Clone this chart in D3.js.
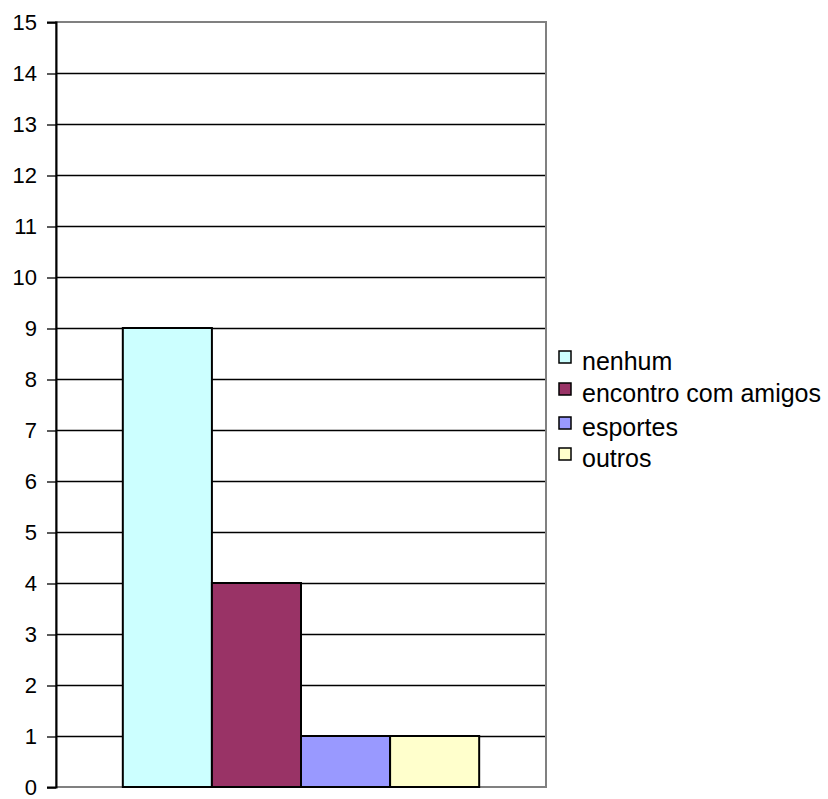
<!DOCTYPE html>
<html>
<head>
<meta charset="utf-8">
<script src="https://cdn.jsdelivr.net/npm/d3@7"></script>
<style>
  html, body { margin: 0; padding: 0; background: #fff; }
  svg text { font-family: "Liberation Sans", Arial, sans-serif; fill: #000; }
</style>
</head>
<body>
<svg id="chart" width="828" height="799"></svg>
<script>
// Activity categories and their counts
const categories = ["nenhum", "encontro com amigos", "esportes", "outros"];
const values = [9, 4, 1, 1];
const colors = ["#ccffff", "#993366", "#9999ff", "#ffffcc"];
const yTicks = d3.range(0, 16);

const svg = d3.select("#chart");
const plot = { left: 56, top: 22, right: 546, bottom: 787 };

const y = d3.scaleLinear().domain([0, 15]).range([plot.bottom, plot.top]);

// The four series share one category group; gap width is 150% of a bar
const barW = (plot.right - plot.left) / (categories.length + 1.5);
const x = d3.scaleBand()
  .domain(categories)
  .range([plot.left + barW * 0.75, plot.right - barW * 0.75])
  .padding(0);

// Horizontal gridlines
svg.append("g")
  .selectAll("line")
  .data(yTicks.filter(t => t > 0 && t < 15))
  .join("line")
  .attr("x1", plot.left).attr("x2", plot.right)
  .attr("y1", d => y(d) + 0.5).attr("y2", d => y(d) + 0.5)
  .attr("stroke", "#000").attr("stroke-width", 1.3);

// Plot border (gray)
svg.append("rect")
  .attr("x", plot.left).attr("y", plot.top)
  .attr("width", plot.right - plot.left).attr("height", plot.bottom - plot.top)
  .attr("fill", "none").attr("stroke", "#808080").attr("stroke-width", 2);

// Bars
svg.append("g")
  .selectAll("rect")
  .data(categories.map((c, i) => ({ c, v: values[i], col: colors[i] })))
  .join("rect")
  .attr("x", d => x(d.c))
  .attr("y", d => y(d.v))
  .attr("width", x.bandwidth())
  .attr("height", d => y(0) - y(d.v))
  .attr("fill", d => d.col)
  .attr("stroke", "#000").attr("stroke-width", 2);

// Y axis
const yAxis = svg.append("g")
  .attr("transform", `translate(${plot.left},0)`)
  .call(d3.axisLeft(y).tickValues(yTicks).tickSize(9).tickPadding(10).tickFormat(d3.format("d")));
yAxis.select(".domain").attr("stroke", "#000").attr("stroke-width", 2);
yAxis.selectAll(".tick line").attr("stroke", "#000").attr("stroke-width", 1.3)
  .attr("transform", "translate(0,0.5)");
yAxis.selectAll(".tick text").attr("font-size", 22).attr("fill", "#000")
  .style("font-family", '"Liberation Sans", Arial, sans-serif');

// Legend
const legend = svg.append("g").attr("transform", "translate(559,0)");
const rowY = [361, 393, 427, 458];
const items = legend.selectAll("g")
  .data(categories.map((c, i) => ({ c, col: colors[i], yy: rowY[i] })))
  .join("g")
  .attr("transform", d => `translate(0,${d.yy})`);
items.append("rect")
  .attr("x", 0).attr("y", -10)
  .attr("width", 12).attr("height", 12)
  .attr("fill", d => d.col)
  .attr("stroke", "#000").attr("stroke-width", 1.5);
items.append("text")
  .attr("x", 23).attr("y", 0)
  .attr("dy", "0.35em")
  .attr("font-size", 25)
  .text(d => d.c);
</script>
</body>
</html>
